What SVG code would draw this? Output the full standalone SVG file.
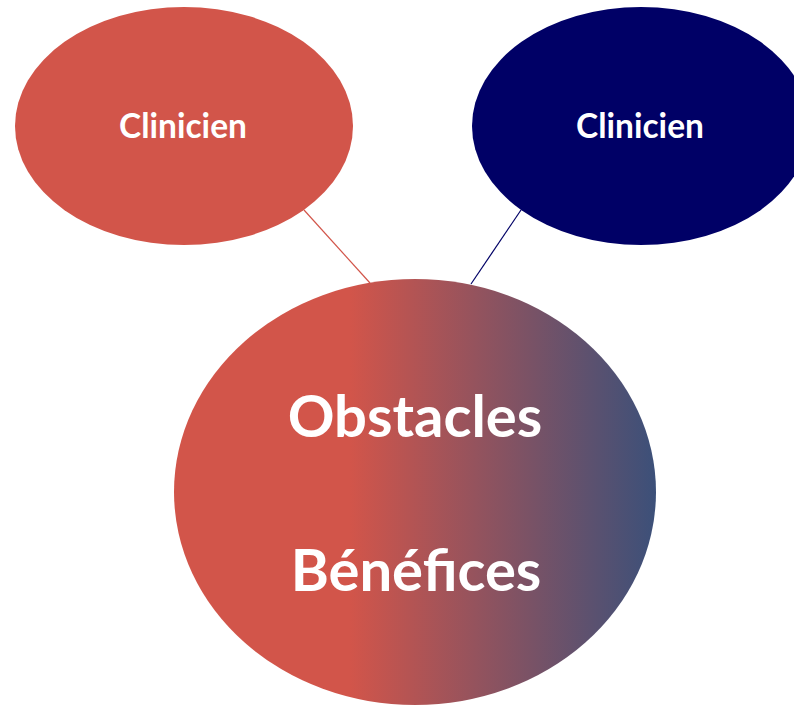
<svg xmlns="http://www.w3.org/2000/svg" width="794" height="706" viewBox="0 0 794 706">
<defs>
<linearGradient id="g" gradientUnits="userSpaceOnUse" x1="174" y1="0" x2="656" y2="0">
<stop offset="0" stop-color="#D2554A"/>
<stop offset="0.365" stop-color="#D2554A"/>
<stop offset="1" stop-color="#3C5079"/>
</linearGradient>
<style>
.t{font-family:Lato,"Open Sans",sans-serif;font-weight:bold;fill:#fff;text-anchor:middle}
</style>
</defs>
<rect width="794" height="706" fill="#fff"/>
<g id="connectors">
<line x1="304" y1="210" x2="370" y2="283" stroke="#D2554A" stroke-width="1.2"/>
<line x1="521" y1="210" x2="471" y2="284" stroke="#000066" stroke-width="1.2"/>
</g>
<g id="left">
<ellipse cx="184" cy="126" rx="169" ry="119" fill="#D2554A"/>
<text class="t" x="183" y="138" font-size="33.5">Clinicien</text>
</g>
<g id="right">
<ellipse cx="641" cy="126" rx="169" ry="119" fill="#000066"/>
<text class="t" x="640" y="138" font-size="33.5">Clinicien</text>
</g>
<g id="center">
<ellipse cx="415" cy="492" rx="241" ry="213" fill="url(#g)"/>
<text class="t" x="415" y="437" font-size="58">Obstacles</text>
<text class="t" x="416" y="591" font-size="58">Bénéfices</text>
</g>
</svg>
